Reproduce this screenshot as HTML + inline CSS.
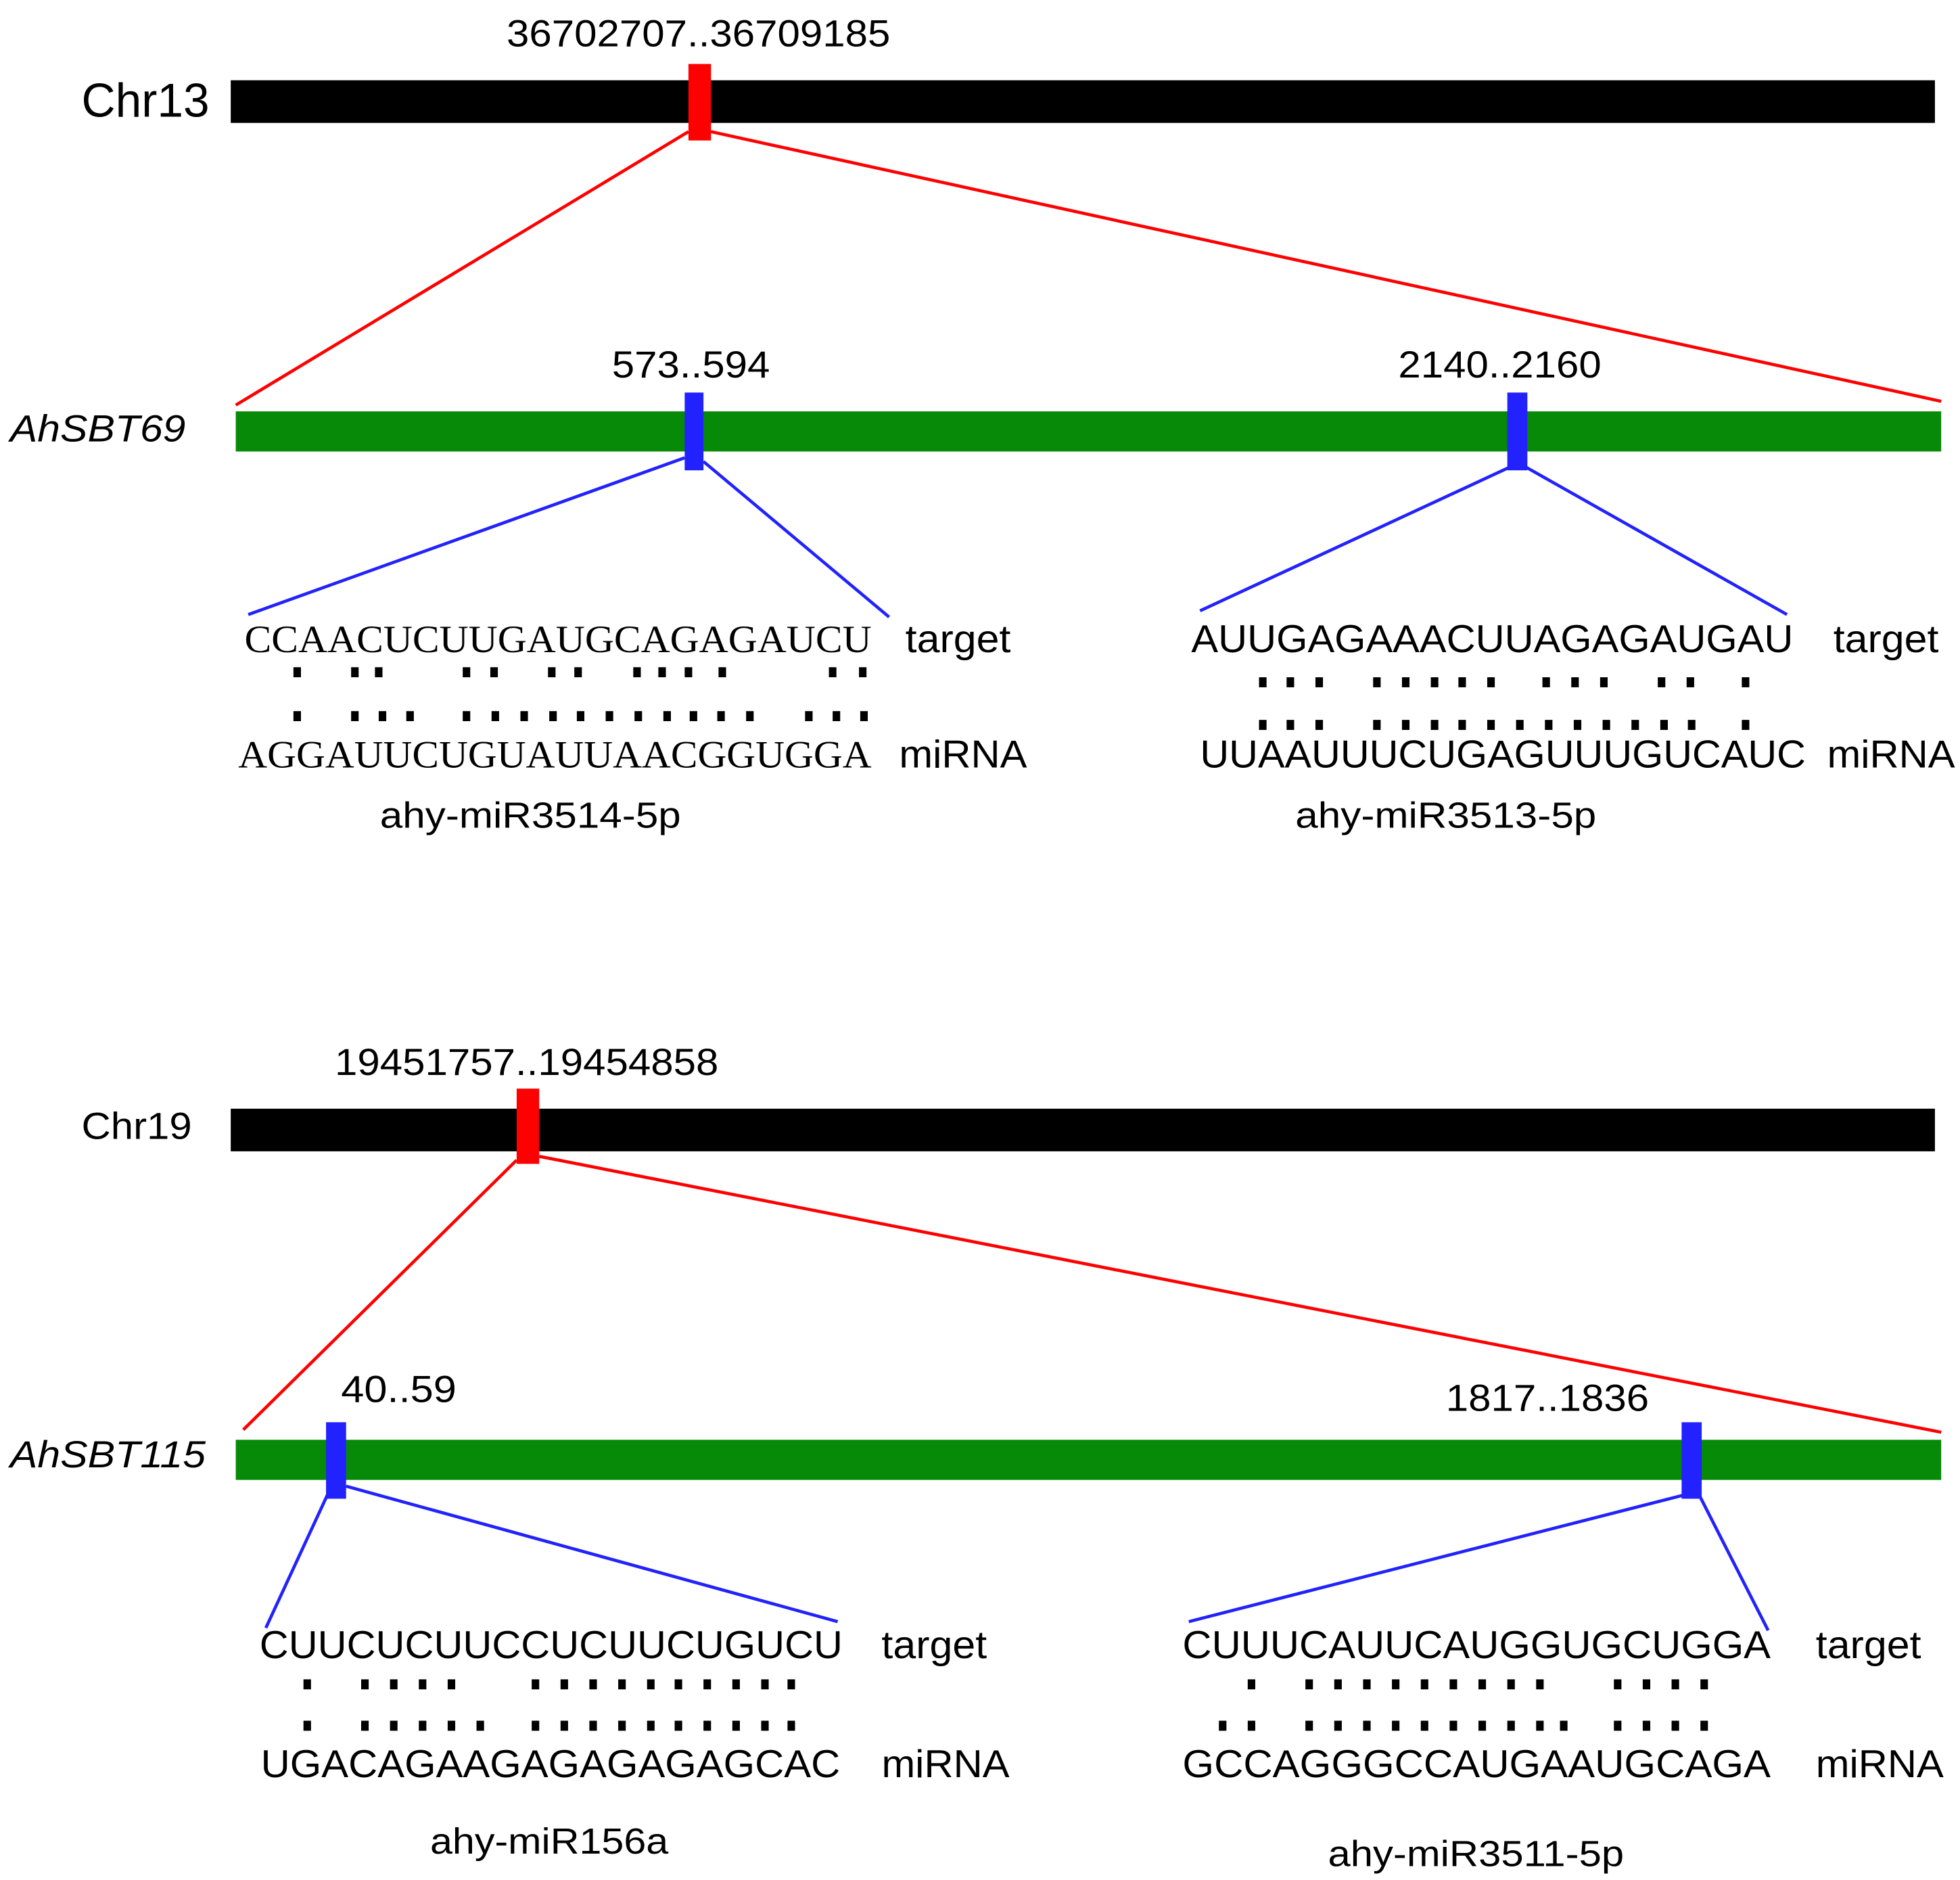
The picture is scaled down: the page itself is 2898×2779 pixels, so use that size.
<!DOCTYPE html>
<html><head><meta charset="utf-8"><style>html,body{margin:0;padding:0;background:#fff}svg{display:block}</style></head>
<body>
<svg xmlns="http://www.w3.org/2000/svg" width="2898" height="2779" viewBox="0 0 1563 1499" preserveAspectRatio="none" font-family="Liberation Sans, sans-serif">
<rect width="1563" height="1499" fill="#fff"/>
<g font-size="30" fill="#000">
<text x="557" y="37" text-anchor="middle" textLength="306" lengthAdjust="spacingAndGlyphs">36702707..36709185</text>
<text x="65" y="93" font-size="38" textLength="102" lengthAdjust="spacingAndGlyphs">Chr13</text>
<text x="8" y="352" font-style="italic" textLength="140" lengthAdjust="spacingAndGlyphs">AhSBT69</text>
<text x="551" y="301" text-anchor="middle" textLength="126" lengthAdjust="spacingAndGlyphs">573..594</text>
<text x="1196" y="301" text-anchor="middle" textLength="162" lengthAdjust="spacingAndGlyphs">2140..2160</text>
</g>
<rect x="184" y="64" width="1359" height="34" fill="#000"/>
<line x1="549" y1="105" x2="188" y2="323" stroke="#f00" stroke-width="2.5"/>
<line x1="567" y1="105" x2="1548" y2="320" stroke="#f00" stroke-width="2.5"/>
<rect x="549" y="51" width="18" height="61" fill="#f00"/>
<rect x="188" y="328" width="1360" height="32" fill="#078a07"/>
<line x1="546" y1="365" x2="198" y2="490" stroke="#22f" stroke-width="2.5"/>
<line x1="561" y1="368" x2="709" y2="492" stroke="#22f" stroke-width="2.5"/>
<line x1="1205" y1="372" x2="957" y2="487" stroke="#22f" stroke-width="2.5"/>
<line x1="1216" y1="372" x2="1425" y2="490" stroke="#22f" stroke-width="2.5"/>
<rect x="546" y="313" width="15" height="62" fill="#22f"/>
<rect x="1202" y="313" width="16" height="62" fill="#22f"/>
<g font-size="31" fill="#000">
<text x="195" y="520" font-family="Liberation Serif, serif" textLength="500" lengthAdjust="spacingAndGlyphs">CCAACUCUUGAUGCAGAGAUCU</text>
<text x="722" y="520" textLength="84" lengthAdjust="spacingAndGlyphs">target</text>
<text x="190" y="612" font-family="Liberation Serif, serif" textLength="505" lengthAdjust="spacingAndGlyphs">AGGAUUCUGUAUUAACGGUGGA</text>
<text x="717" y="612" textLength="102" lengthAdjust="spacingAndGlyphs">miRNA</text>
<text x="423" y="660" text-anchor="middle" font-size="29" textLength="240" lengthAdjust="spacingAndGlyphs">ahy-miR3514-5p</text>
<text x="950" y="520" textLength="480" lengthAdjust="spacingAndGlyphs">AUUGAGAAACUUAGAGAUGAU</text>
<text x="1462" y="520" textLength="84" lengthAdjust="spacingAndGlyphs">target</text>
<text x="957" y="612" textLength="483" lengthAdjust="spacingAndGlyphs">UUAAUUUCUGAGUUUGUCAUC</text>
<text x="1457" y="612" textLength="102" lengthAdjust="spacingAndGlyphs">miRNA</text>
<text x="1153" y="660" text-anchor="middle" font-size="29" textLength="240" lengthAdjust="spacingAndGlyphs">ahy-miR3513-5p</text>
</g>
<g fill="#000" font-size="30">
<text x="420" y="857" text-anchor="middle" textLength="306" lengthAdjust="spacingAndGlyphs">19451757..19454858</text>
<text x="65" y="908" textLength="88" lengthAdjust="spacingAndGlyphs">Chr19</text>
<text x="8" y="1170" font-style="italic" textLength="156" lengthAdjust="spacingAndGlyphs">AhSBT115</text>
<text x="272" y="1118" textLength="92" lengthAdjust="spacingAndGlyphs">40..59</text>
<text x="1234" y="1125" text-anchor="middle" textLength="162" lengthAdjust="spacingAndGlyphs">1817..1836</text>
</g>
<rect x="184" y="884" width="1359" height="34" fill="#000"/>
<line x1="412" y1="925" x2="194" y2="1140" stroke="#f00" stroke-width="2.5"/>
<line x1="430" y1="922" x2="1548" y2="1142" stroke="#f00" stroke-width="2.5"/>
<rect x="412" y="868" width="18" height="60" fill="#f00"/>
<rect x="188" y="1148" width="1360" height="32" fill="#078a07"/>
<line x1="262" y1="1190" x2="212" y2="1298" stroke="#22f" stroke-width="2.5"/>
<line x1="276" y1="1185" x2="668" y2="1293" stroke="#22f" stroke-width="2.5"/>
<line x1="1343" y1="1192" x2="948" y2="1293" stroke="#22f" stroke-width="2.5"/>
<line x1="1355" y1="1192" x2="1410" y2="1300" stroke="#22f" stroke-width="2.5"/>
<rect x="260" y="1134" width="16" height="61" fill="#22f"/>
<rect x="1341" y="1134" width="16" height="61" fill="#22f"/>
<g font-size="31" fill="#000">
<text x="207" y="1322" textLength="465" lengthAdjust="spacingAndGlyphs">CUUCUCUUCCUCUUCUGUCU</text>
<text x="703" y="1322" textLength="84" lengthAdjust="spacingAndGlyphs">target</text>
<text x="208" y="1417" textLength="462" lengthAdjust="spacingAndGlyphs">UGACAGAAGAGAGAGAGCAC</text>
<text x="703" y="1417" textLength="102" lengthAdjust="spacingAndGlyphs">miRNA</text>
<text x="438" y="1478" text-anchor="middle" font-size="29" textLength="190" lengthAdjust="spacingAndGlyphs">ahy-miR156a</text>
<text x="943" y="1322" textLength="469" lengthAdjust="spacingAndGlyphs">CUUUCAUUCAUGGUGCUGGA</text>
<text x="1448" y="1322" textLength="84" lengthAdjust="spacingAndGlyphs">target</text>
<text x="943" y="1417" textLength="469" lengthAdjust="spacingAndGlyphs">GCCAGGGCCAUGAAUGCAGA</text>
<text x="1448" y="1417" textLength="102" lengthAdjust="spacingAndGlyphs">miRNA</text>
<text x="1177" y="1488" text-anchor="middle" font-size="29" textLength="236" lengthAdjust="spacingAndGlyphs">ahy-miR3511-5p</text>
</g>
<g fill="#000" id="dots"></g>
<script>
(function(){
var g=document.getElementById('dots'),NS='http://www.w3.org/2000/svg';
function row(y,xs){xs.forEach(function(x){var r=document.createElementNS(NS,'rect');r.setAttribute('x',x-3);r.setAttribute('y',y-4);r.setAttribute('width',6);r.setAttribute('height',8);g.appendChild(r);});}
row(536,[237,283,302,372,394,440,461,508,528,549,576,664,688]);
row(571,[237,283,305,327,372,395,418,441,463,486,509,532,553,575,598,645,667,689]);
row(544,[1007,1029,1052,1098,1121,1144,1166,1189,1233,1256,1279,1325,1348,1392]);
row(578,[1007,1029,1052,1098,1121,1144,1166,1189,1212,1235,1258,1281,1304,1327,1349,1392]);
row(1343,[245,291,314,337,360,427,450,473,496,519,541,564,587,610,631]);
row(1376,[245,291,314,337,360,383,427,450,473,496,519,541,564,587,610,631]);
row(1343,[998,1044,1067,1090,1113,1136,1159,1182,1205,1228,1290,1313,1336,1359]);
row(1376,[975,998,1044,1067,1090,1113,1136,1159,1182,1205,1228,1247,1290,1313,1336,1359]);
})();
</script>
</svg>
</body></html>
